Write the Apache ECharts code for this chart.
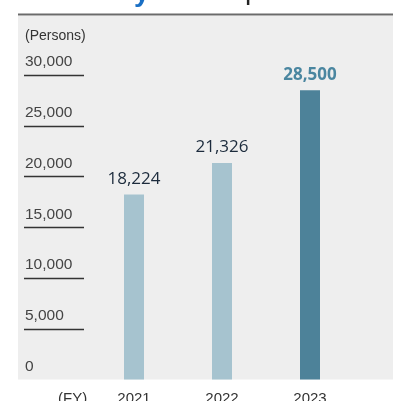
<!DOCTYPE html>
<html>
<head>
<meta charset="utf-8">
<script src="https://cdn.jsdelivr.net/npm/echarts@6/dist/echarts.min.js"></script>
<style>
html,body{margin:0;padding:0;background:#fff;}
#c{width:395px;height:401px;}
</style>
</head>
<body>
<div id="c"></div>
<script>
const categories = ['2021', '2022', '2023'];
const values = [18224, 21326, 28500];
const tickValues = [0, 5000, 10000, 15000, 20000, 25000, 30000];
const lineTicks = [5000, 10000, 15000, 20000, 25000, 30000];
const unitLabel = '(Persons)';
const fyLabel = '(FY)';

const lightColor = '#a6c3cf';
const darkColor = '#4d8299';

const chart = echarts.init(document.getElementById('c'), null, {renderer: 'canvas'});

const barData = values.map((v, i) => {
  const last = i === values.length - 1;
  return {
    value: v,
    itemStyle: {color: last ? darkColor : lightColor},
    label: last ? {color: '#4a86a0', fontWeight: 'bold'} : {color: '#1c2b3c', fontWeight: 'normal'}
  };
});

chart.setOption({
  animation: false,
  backgroundColor: '#ffffff',
  grid: {left: 90, right: 41, top: 75, bottom: 21.5, outerBoundsMode: 'none', containLabel: false},
  xAxis: {
    type: 'category',
    data: categories,
    axisLine: {show: false},
    axisTick: {show: false},
    axisLabel: {fontFamily: 'Liberation Sans', fontSize: 15, color: '#333', margin: 12}
  },
  yAxis: {
    type: 'value',
    min: 0, max: 30000, interval: 5000,
    offset: 6,
    axisLine: {show: false},
    splitLine: {show: false},
    axisTick: {show: true, inside: false, length: 60, customValues: lineTicks,
      lineStyle: {color: '#333', width: 1.3}},
    axisLabel: {
      customValues: tickValues,
      align: 'left', margin: 59, verticalAlign: 'bottom',
      padding: [0, 0, 5, 0],
      fontFamily: 'Liberation Sans', fontSize: 15.5, color: '#444',
      formatter: v => v.toLocaleString('en-US')
    }
  },
  graphic: [
    {type: 'rect', z: -10, shape: {x: 18, y: 16, width: 375, height: 363.5}, style: {fill: '#eeeeee'}},
    {type: 'line', shape: {x1: 18, y1: 14.5, x2: 393, y2: 14.5}, style: {stroke: '#6b6b6b', lineWidth: 2}},
    {type: 'text', x: 134, y: 7, style: {text: 'y', font: 'bold 28px Liberation Sans', fill: '#1a6fc4', verticalAlign: 'bottom'}},
    {type: 'text', x: 245, y: 5, style: {text: 'p', font: '28px Liberation Sans', fill: '#222', verticalAlign: 'bottom'}},
    {type: 'text', x: 25, y: 36.5, style: {text: unitLabel, font: '14px Liberation Sans', fill: '#333', verticalAlign: 'middle'}},
    {type: 'text', x: 58, y: 399, style: {text: fyLabel, font: '15px Liberation Sans', fill: '#333', verticalAlign: 'middle'}}
  ],
  series: [{
    type: 'bar',
    data: barData,
    barWidth: 20,
    label: {show: true, position: 'top', distance: 7, fontFamily: 'Open Sans', fontSize: 17,
      formatter: p => p.value.toLocaleString('en-US')}
  }]
});
</script>
</body>
</html>
